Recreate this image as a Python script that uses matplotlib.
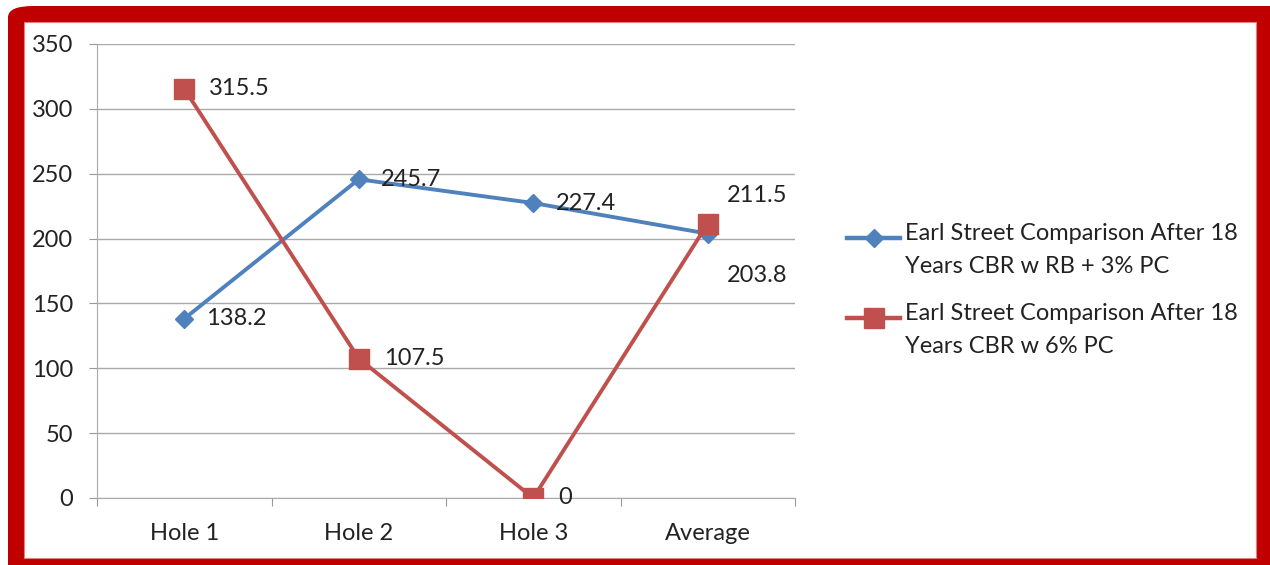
import matplotlib.pyplot as plt
from matplotlib.patches import FancyBboxPatch
from matplotlib.lines import Line2D
from matplotlib.legend_handler import HandlerLine2D

categories = ["Hole 1", "Hole 2", "Hole 3", "Average"]
rb_3pc = [138.2, 245.7, 227.4, 203.8]
pc_6 = [315.5, 107.5, 0, 211.5]
series_names = ["Earl Street Comparison After 18\nYears CBR w RB + 3% PC",
                "Earl Street Comparison After 18\nYears CBR w 6% PC"]
yticks = [0, 50, 100, 150, 200, 250, 300, 350]

blue = "#4F81BD"
red = "#C0504D"
frame = "#C00000"
txt = "#222222"
fs = 17

plt.rcParams['font.family'] = ['Lato', 'DejaVu Sans']


class FirstLineHandler(HandlerLine2D):
    # put the legend key level with the first line of a two-line label
    def create_artists(self, legend, orig_handle, xdescent, ydescent,
                       width, height, fontsize, trans):
        return super().create_artists(legend, orig_handle, xdescent,
                                      ydescent - 1.05 * fontsize, width,
                                      height, fontsize, trans)


W, H = 1270, 565
fig = plt.figure(figsize=(W / 100, H / 100), dpi=100)

# red rounded frame around the chart
fig.patches.append(FancyBboxPatch((8 / W, -40 / H), (W + 40) / W, (H + 34) / H,
                                  boxstyle="round,pad=0,rounding_size=0.02",
                                  transform=fig.transFigure, facecolor=frame,
                                  edgecolor="none", zorder=0))
fig.patches.append(plt.Rectangle((24 / W, (H - 558) / H), (1256 - 24) / W,
                                 (558 - 22) / H, transform=fig.transFigure,
                                 facecolor="white", edgecolor="#E08080",
                                 linewidth=0.8, zorder=0))

ax = fig.add_axes([97 / W, (H - 498) / H, (795 - 97) / W, (498 - 44) / H])
ax.set_zorder(2)
ax.patch.set_alpha(0)
x = [0.5, 1.5, 2.5, 3.5]

ax.plot(x, rb_3pc, color=blue, lw=2.8, marker="D", ms=9,
        label=series_names[0], zorder=3)
ax.plot(x, pc_6, color=red, lw=2.8, marker="s", ms=14,
        label=series_names[1], zorder=3)

ax.set_xlim(0, 4)
ax.set_ylim(0, 350)
ax.set_yticks(yticks)
ax.set_xticks([0, 1, 2, 3, 4])
ax.set_xticklabels([])
ax.set_xticks(x, minor=True)
ax.set_xticklabels(categories, minor=True)
ax.tick_params(axis="x", which="minor", length=0, pad=18, labelsize=fs,
               labelcolor=txt)
ax.tick_params(axis="x", which="major", length=6, color="#999999")
ax.tick_params(axis="y", length=6, color="#999999", labelsize=fs,
               labelcolor=txt, pad=11)
ax.grid(axis="y", color="#AAAAAA", lw=1)
for s in ["top", "right"]:
    ax.spines[s].set_visible(False)
for s in ["left", "bottom"]:
    ax.spines[s].set_color("#AAAAAA")

# data labels
for i in range(3):
    ax.annotate(f"{rb_3pc[i]:g}", (x[i], rb_3pc[i]), xytext=(16, 0),
                textcoords="offset points", va="center", fontsize=fs,
                color=txt, zorder=4)
    ax.annotate(f"{pc_6[i]:g}", (x[i], pc_6[i]), xytext=(18, 0),
                textcoords="offset points", va="center", fontsize=fs,
                color=txt, zorder=4)
ax.annotate(f"{rb_3pc[3]:g}", (x[3], rb_3pc[3]), xytext=(14, -30),
            textcoords="offset points", va="center", fontsize=fs, color=txt)
ax.annotate(f"{pc_6[3]:g}", (x[3], pc_6[3]), xytext=(14, 20),
            textcoords="offset points", va="center", fontsize=fs, color=txt)

leg = fig.legend(loc="center left", bbox_to_anchor=(826 / W, (H - 290) / H),
                 frameon=False, fontsize=fs, handlelength=2.25,
                 handletextpad=0.2, labelspacing=1.1, labelcolor=txt,
                 handler_map={Line2D: FirstLineHandler()})
for t in leg.get_texts():
    t.set_linespacing(1.7)
for h in leg.get_lines():
    h.set_linewidth(3.2)

fig.savefig("out.png", dpi=100)
